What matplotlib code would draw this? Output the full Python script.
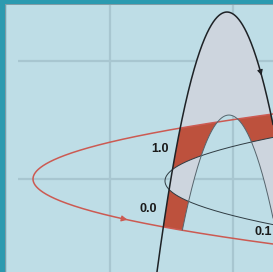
import numpy as np
import matplotlib
matplotlib.use('Agg')
import matplotlib.pyplot as plt
from matplotlib.patches import Rectangle

# ---- curve data (grid units: one grid square = 1) ----
red_vertex = [-0.626, 0.0]     # left tip of the red curve
thin_vertex = [0.447, -0.017]  # left tip of the thin black curve
side_k = 6.43                  # x = x0 + k (y - y0)^2
outer_apex = [0.951, 1.415]    # top of the heavy black curve
inner_apex = [0.967, 0.542]    # top of the inner grey curve
cap_k = 6.80                   # y = y0 - k (x - x0)^2

grid_x = [0, 1]
grid_y = [0, 1]

labels = ['1.0', '0.0', '0.1']
label_x = [0.407, 0.313, 1.171]
label_y = [0.258, -0.254, -0.453]
label_ha = ['center', 'center', 'left']

red_arrow_x = 0.122     # arrow on lower red branch
black_arrow_x = 1.228   # arrow on right black branch

# ---- colours ----
bg = '#bedde6'
grid_col = '#a8c6d0'
gray_fill = '#cdd5de'
red_fill = '#bd513d'
red_line = '#cc5a52'
black = '#1e2226'
thin_col = '#2f3b42'
inner_col = '#56646c'
teal = '#2b9ab0'

XMIN, XMAX = -110 / 123, 163 / 123
YMIN, YMAX = -93 / 118, 179 / 118


def side_curve(v, y):
    return v[0] + side_k * (y - v[1]) ** 2


def cap_curve(a, x):
    return a[1] - cap_k * (x - a[0]) ** 2


def red_lower(x):
    return red_vertex[1] - np.sqrt(np.maximum(x - red_vertex[0], 0) / side_k)


fig = plt.figure(figsize=(2.73, 2.72), dpi=100, facecolor=bg)
ax = fig.add_axes([0, 0, 1, 1])
ax.set_facecolor(bg)
ax.set_xlim(XMIN, XMAX)
ax.set_ylim(YMIN, YMAX)
ax.axis('off')

# grid
grid_start = (18 - 110) / 123
ax.hlines(grid_y, grid_start, XMAX, color=grid_col, lw=1.6, zorder=1)
ax.vlines(grid_x, YMIN, YMAX, color=grid_col, lw=1.6, zorder=1)

# shaded regions from the four curves
X, Y = np.meshgrid(np.linspace(XMIN, XMAX, 900), np.linspace(YMIN, YMAX, 900))
f_out = cap_curve(outer_apex, X) - Y
f_in = cap_curve(inner_apex, X) - Y
f_red = X - side_curve(red_vertex, Y)
f_thin = X - side_curve(thin_vertex, Y)
f_low = Y - red_lower(X)
band = np.minimum(np.minimum(f_out, -f_in), f_low)
red_f = np.minimum(np.minimum(band, f_red), -f_thin)
gray_f = np.minimum(band, np.maximum(-f_red, f_thin))
ax.contourf(X, Y, gray_f, levels=[0, 1e3], colors=[gray_fill], zorder=2, antialiased=True)
ax.contourf(X, Y, red_f, levels=[0, 1e3], colors=[red_fill], zorder=2, antialiased=True)

# curves
xs = np.linspace(XMIN, XMAX, 1200)
ys = np.linspace(YMIN, YMAX, 1200)
ax.plot(side_curve(red_vertex, ys), ys, color=red_line, lw=1.1, zorder=3)
ax.plot(side_curve(thin_vertex, ys), ys, color=thin_col, lw=0.7, zorder=3)
ax.plot(xs, cap_curve(outer_apex, xs), color=black, lw=1.1, zorder=3)
y_in = cap_curve(inner_apex, xs)
y_in = np.where(y_in < red_lower(xs), np.nan, y_in)
ax.plot(xs, y_in, color=inner_col, lw=0.7, zorder=3)

# direction arrows
d = 0.02
ax.annotate('', xy=(red_arrow_x + d, red_lower(red_arrow_x + d)),
            xytext=(red_arrow_x - d, red_lower(red_arrow_x - d)),
            arrowprops=dict(arrowstyle='-|>', color=red_line, lw=0.8, mutation_scale=9),
            zorder=4)
ax.annotate('', xy=(black_arrow_x + d / 2, cap_curve(outer_apex, black_arrow_x + d / 2)),
            xytext=(black_arrow_x - d / 2, cap_curve(outer_apex, black_arrow_x - d / 2)),
            arrowprops=dict(arrowstyle='-|>', color=black, lw=0.8, mutation_scale=8),
            zorder=4)

for t, x, y, ha in zip(labels, label_x, label_y, label_ha):
    ax.text(x, y, t, ha=ha, va='center', fontsize=9, fontweight='bold',
            family='Liberation Sans', color='#1a1a1a', zorder=4)

# frame of the scanned panel
fig.add_artist(Rectangle((0, 0), 4.5 / 273, 1, transform=fig.transFigure,
                         color=teal, zorder=10))
fig.add_artist(Rectangle((0, 1 - 3 / 272), 1, 3 / 272, transform=fig.transFigure,
                         color=teal, zorder=10))
fig.add_artist(plt.Line2D([5 / 273, 5 / 273], [0, 1 - 3.5 / 272], transform=fig.transFigure,
                          color='#7f9ba5', lw=0.7, zorder=10))
fig.add_artist(plt.Line2D([5 / 273, 1], [1 - 3.5 / 272, 1 - 3.5 / 272], transform=fig.transFigure,
                          color='#7f9ba5', lw=0.7, zorder=10))

fig.savefig('out.png', dpi=100, facecolor=bg)
